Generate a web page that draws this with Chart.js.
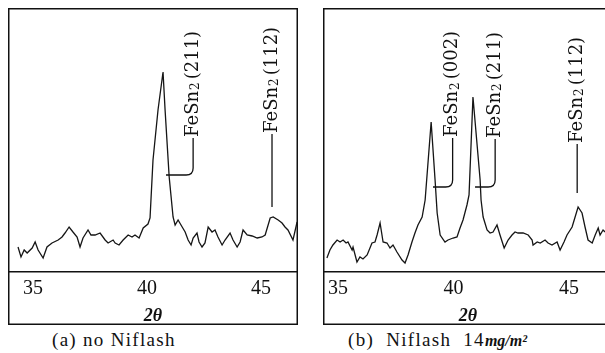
<!DOCTYPE html>
<html>
<head>
<meta charset="utf-8">
<script src="https://cdn.jsdelivr.net/npm/chart.js@4.4.1/dist/chart.umd.min.js"></script>
<style>
html, body { margin: 0; padding: 0; background: #fff; width: 605px; height: 353px; overflow: hidden; }
canvas { position: absolute; }
#chartA { left: 8px; top: 8px; }
#chartB { left: 323px; top: 8px; }
.cap { position: absolute; font-family: "Liberation Serif", serif; font-size: 19px; color: #111; white-space: nowrap; letter-spacing: 1.3px; }
.cap i { font-weight: bold; font-size: 16px; letter-spacing: 0; }
</style>
</head>
<body>
<canvas id="chartA" width="290" height="317"></canvas>
<canvas id="chartB" width="290" height="317"></canvas>
<div class="cap" style="left:52px; top:329px;">(a) no Niflash</div>
<div class="cap" style="left:348px; top:329px;">(b)&nbsp; Niflash&nbsp; 14<i>mg/m²</i></div>
<script>
// (a) no Niflash
var twoThetaA = [34.34, 34.47, 34.61, 34.74, 34.96, 35.09, 35.22, 35.44, 35.61, 35.83,
    36.10, 36.27, 36.40, 36.58, 36.75, 36.93, 37.06, 37.19, 37.41, 37.54,
    37.72, 37.94, 38.16, 38.29, 38.51, 38.60, 38.77, 38.95, 39.17, 39.34,
    39.47, 39.65, 39.83, 40.04, 40.13, 40.26, 40.48, 40.70, 40.79, 40.97,
    41.14, 41.23, 41.36, 41.54, 41.67, 41.80, 41.93, 42.02, 42.19, 42.28,
    42.41, 42.54, 42.68, 42.85, 42.98, 43.11, 43.29, 43.42, 43.64, 43.77,
    43.95, 44.08, 44.21, 44.39, 44.61, 44.83, 45.04, 45.18, 45.40, 45.53,
    45.75, 45.92, 46.05, 46.18, 46.40, 46.58];
var intensityA = [25, 15, 22, 19, 24, 30, 22, 14, 25, 29,
    32, 35, 39, 45, 40, 35, 25, 34, 42, 37,
    37, 39, 32, 29, 32, 29, 27, 32, 37, 35,
    37, 34, 44, 48, 54, 112, 162, 200, 162, 95,
    55, 47, 52, 45, 40, 32, 27, 34, 39, 30,
    25, 29, 45, 40, 42, 35, 27, 32, 39, 32,
    25, 30, 42, 37, 36, 34, 35, 37, 54, 55,
    52, 49, 45, 42, 32, 50];

// (b) Niflash 14 mg/m2
var twoThetaB = [34.52, 34.65, 34.78, 34.96, 35.09, 35.22, 35.35, 35.43, 35.61, 35.65,
    35.82, 35.95, 36.08, 36.26, 36.47, 36.60, 36.69, 36.82, 36.95, 37.12,
    37.25, 37.38, 37.55, 37.77, 37.90, 38.03, 38.20, 38.33, 38.46, 38.64,
    38.77, 39.03, 39.20, 39.29, 39.42, 39.63, 39.76, 39.98, 40.15, 40.28,
    40.41, 40.58, 40.67, 40.84, 41.15, 41.19, 41.28, 41.45, 41.58, 41.71,
    41.88, 42.01, 42.19, 42.36, 42.53, 42.66, 42.79, 43.01, 43.23, 43.40,
    43.44, 43.62, 43.75, 43.96, 44.09, 44.26, 44.48, 44.61, 44.78, 44.91,
    45.13, 45.26, 45.39, 45.56, 45.69, 45.82, 46.00, 46.13, 46.26, 46.34,
    46.47, 46.56];
var intensityB = [14, 22, 27, 32, 30, 32, 29, 30, 22, 25,
    10, 15, 13, 17, 29, 30, 37, 49, 30, 29,
    24, 27, 20, 12, 9, 17, 30, 39, 47, 55,
    72, 150, 92, 59, 37, 30, 32, 34, 35, 44,
    52, 67, 77, 175, 92, 72, 55, 42, 39, 40,
    47, 37, 24, 32, 37, 40, 39, 39, 37, 32,
    27, 30, 29, 32, 29, 27, 30, 22, 30, 37,
    45, 55, 65, 59, 45, 32, 29, 37, 44, 37,
    42, 40];

var tickValues = [35, 40, 45];
var axisTitle = "2θ";

var framePlugin = {
    id: "frame",
    afterDraw: function (chart) {
        var ctx = chart.ctx;
        ctx.save();
        ctx.strokeStyle = "#111";
        ctx.lineWidth = 1.5;
        ctx.strokeRect(0.75, 0.75, chart.width - 1.5, chart.height - 1.5);
        ctx.restore();
    }
};

// rotated "FeSn2(hkl)" labels with their leader lines
function peakLabelPlugin(labels) {
    return {
        id: "peakLabels",
        afterDatasetsDraw: function (chart) {
            var ctx = chart.ctx, xs = chart.scales.x, ys = chart.scales.y;
            ctx.save();
            ctx.strokeStyle = "#111";
            ctx.fillStyle = "#111";
            ctx.lineWidth = 1.3;
            labels.forEach(function (l) {
                var cx = xs.getPixelForValue(l.at), by = ys.getPixelForValue(l.base);
                var ly = ys.getPixelForValue(l.toY);
                ctx.beginPath();
                ctx.moveTo(cx, by + 1);
                if (l.toX !== undefined) {
                    var ex = xs.getPixelForValue(l.toX);
                    ctx.lineTo(cx, ly - 7);
                    ctx.quadraticCurveTo(cx, ly, cx - 7, ly);
                    ctx.lineTo(ex, ly);
                } else {
                    ctx.lineTo(cx, ly);
                }
                ctx.stroke();

                ctx.save();
                ctx.translate(cx, by);
                ctx.rotate(-Math.PI / 2);
                ctx.textBaseline = "middle";
                ctx.font = '18px "DejaVu Serif"';
                ctx.fillText("FeSn", 0, 0);
                var w = ctx.measureText("FeSn").width;
                ctx.font = '12px "DejaVu Serif"';
                ctx.fillText("2", w + 1, 3);
                var w2 = ctx.measureText("2").width;
                ctx.font = '18px "DejaVu Serif"';
                ctx.fillText(l.hkl, w + w2 + 4, 0);
                ctx.restore();
            });
            ctx.restore();
        }
    };
}

function makeChart(id, angles, counts, xMin, xMax, labels) {
    return new Chart(document.getElementById(id), {
        type: "line",
        data: {
            datasets: [{
                data: angles.map(function (a, i) { return { x: a, y: counts[i] }; }),
                borderColor: "#151515",
                borderWidth: 1.3,
                pointRadius: 0,
                tension: 0,
                fill: false
            }]
        },
        options: {
            responsive: false,
            animation: false,
            devicePixelRatio: 1,
            layout: { padding: 0 },
            plugins: { legend: { display: false }, tooltip: { enabled: false } },
            scales: {
                x: {
                    type: "linear",
                    min: xMin,
                    max: xMax,
                    afterBuildTicks: function (s) {
                        s.ticks = tickValues.map(function (v) { return { value: v }; });
                    },
                    afterFit: function (s) { s.height = 53; },
                    grid: { display: false, drawTicks: false },
                    border: { display: true, color: "#111", width: 1.5 },
                    ticks: {
                        autoSkip: false, maxRotation: 0, padding: 5, color: "#111",
                        font: { family: "Liberation Serif", size: 20 }
                    },
                    title: {
                        display: true, text: axisTitle, color: "#111", padding: 0,
                        font: { family: "Liberation Serif", size: 18, style: "italic", weight: "bold", lineHeight: 1.0 }
                    }
                },
                y: { display: false, min: 0, max: 264 }
            }
        },
        plugins: [framePlugin, peakLabelPlugin(labels)]
    });
}

makeChart("chartA", twoThetaA, intensityA, 33.90, 46.62, [
    { hkl: "(211)", at: 42.02, base: 135, toY: 97, toX: 40.83 },
    { hkl: "(112)", at: 45.48, base: 139, toY: 65 }
]);
makeChart("chartB", twoThetaB, intensityB, 34.35, 46.90, [
    { hkl: "(002)", at: 39.96, base: 135, toY: 85, toX: 39.11 },
    { hkl: "(211)", at: 41.80, base: 134, toY: 85, toX: 40.93 },
    { hkl: "(112)", at: 45.35, base: 129, toY: 79 }
]);
</script>
</body>
</html>
